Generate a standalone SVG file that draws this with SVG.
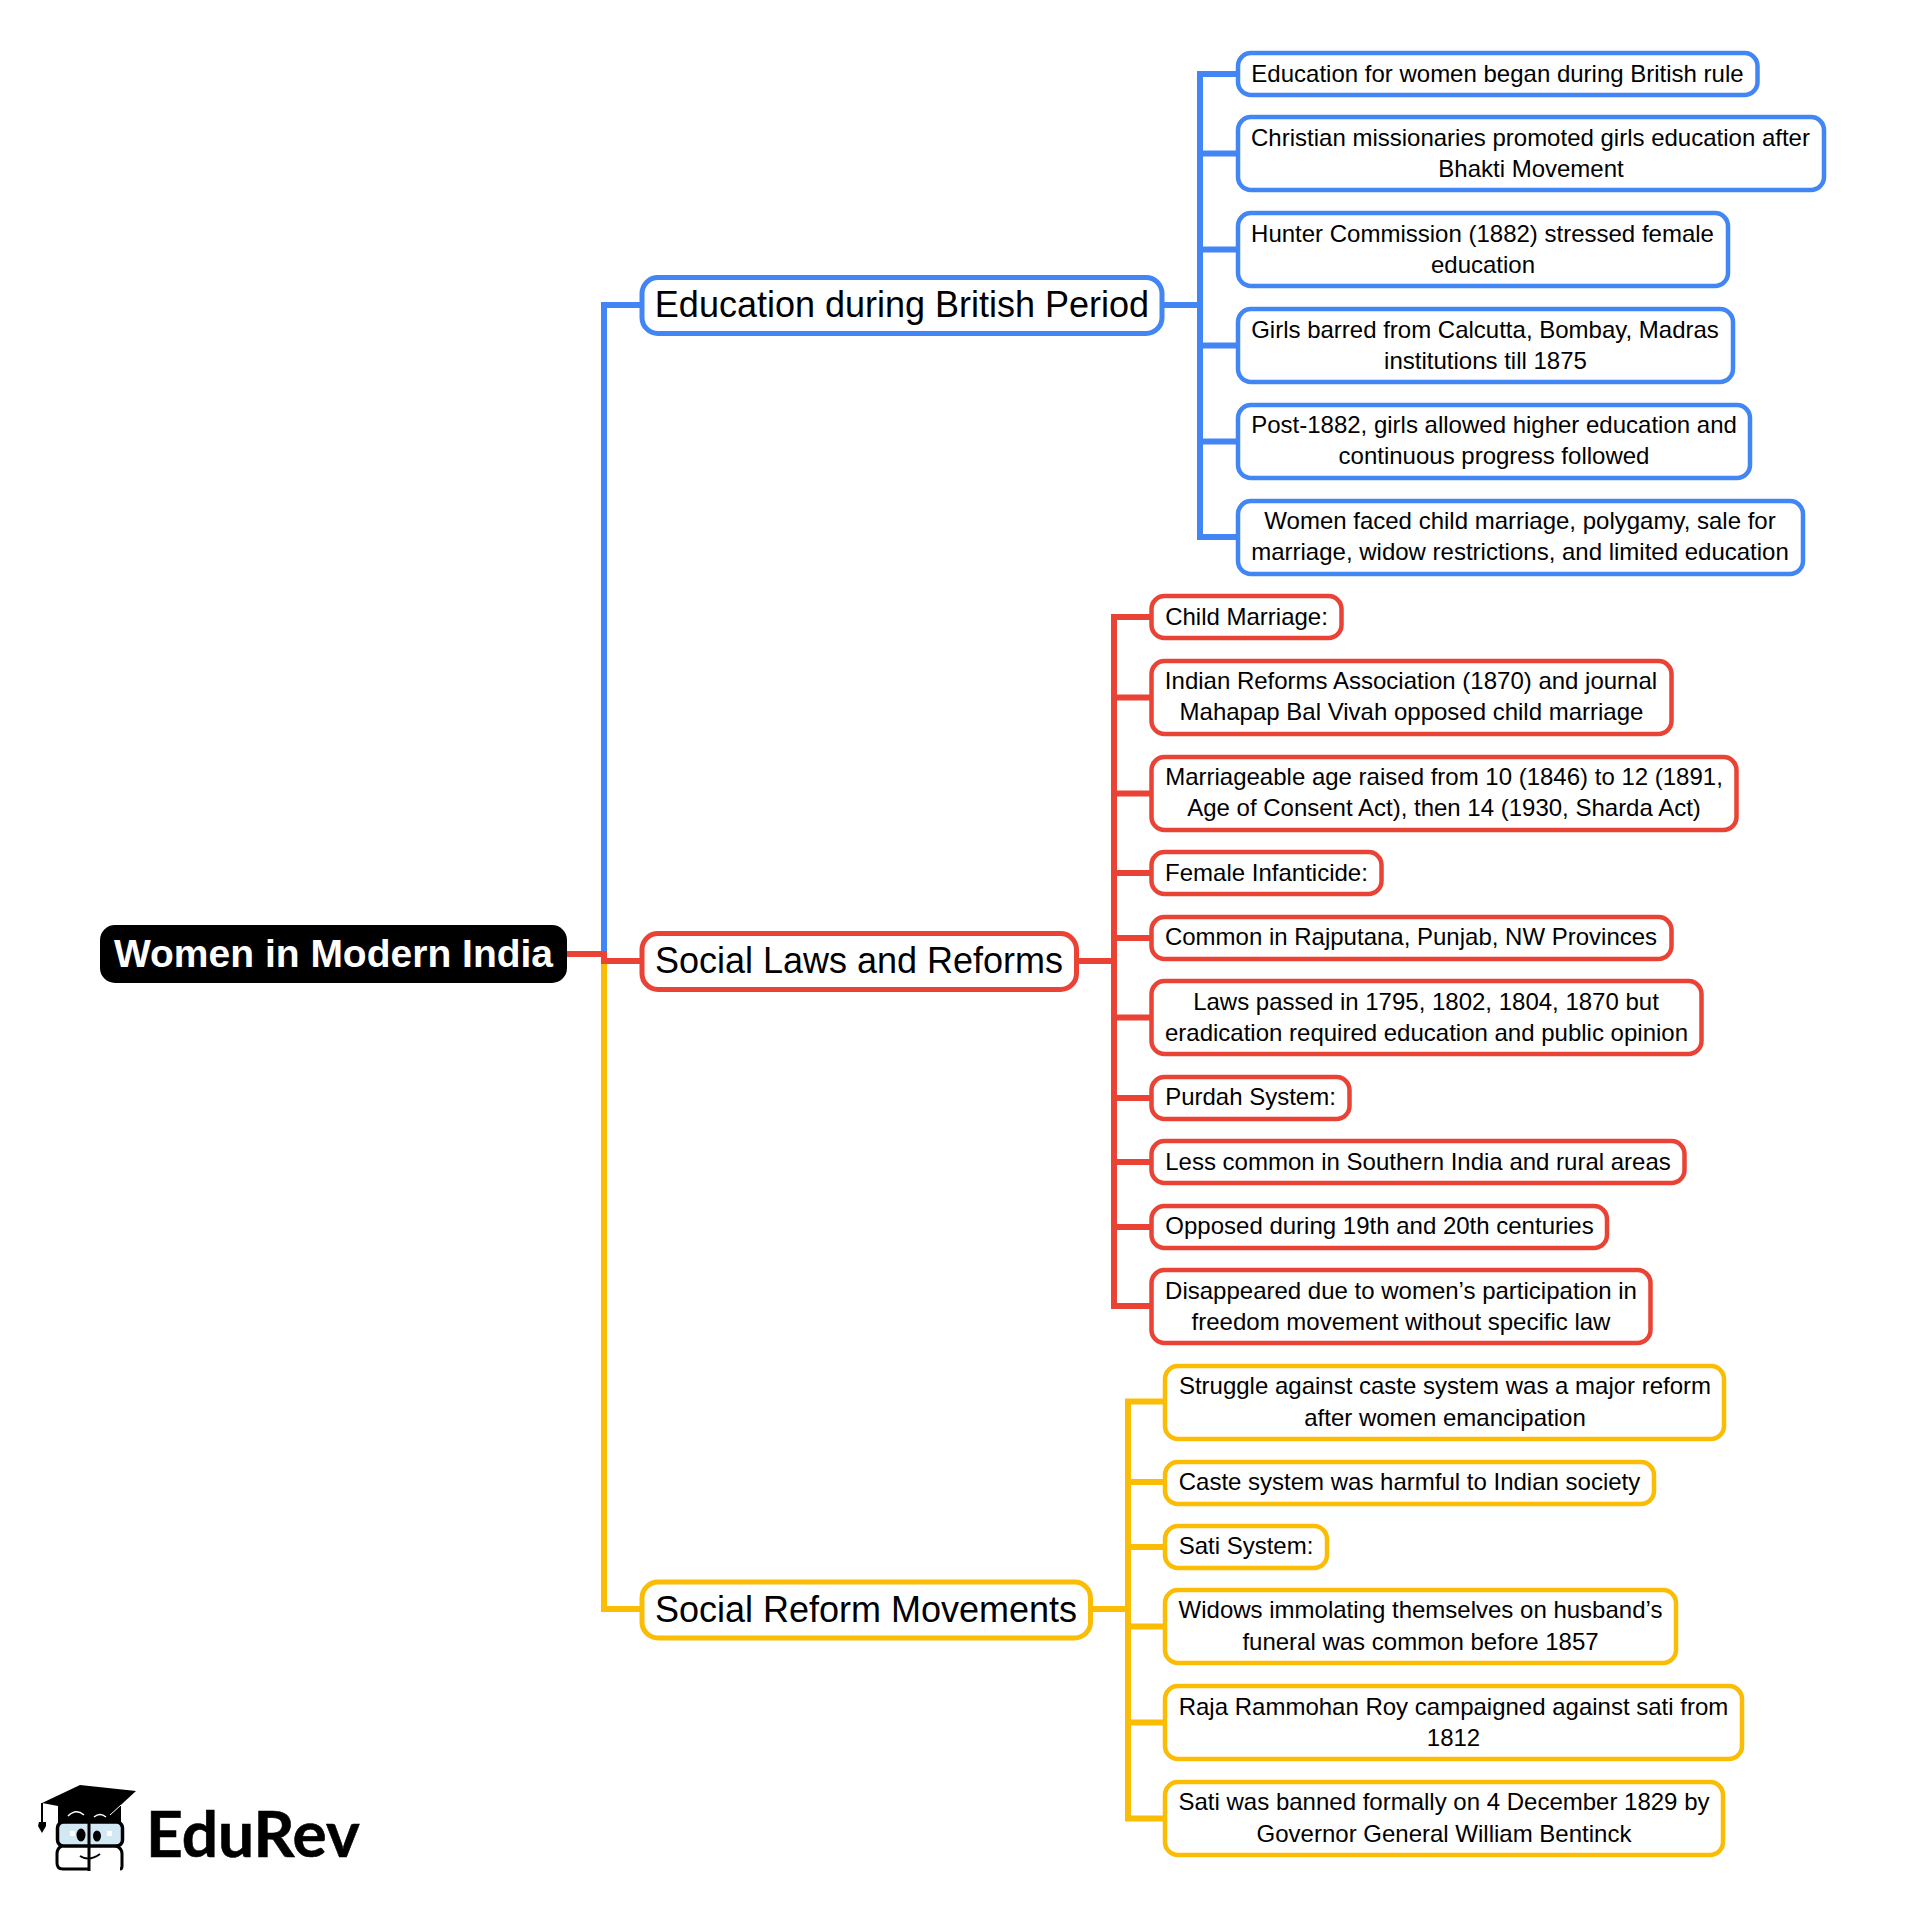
<svg xmlns="http://www.w3.org/2000/svg" width="1926" height="1908" viewBox="0 0 1926 1908">
<style>
text{font-family:"Liberation Sans",Arial,sans-serif;fill:#000;text-anchor:middle}
.l{font-size:24px}
.m{font-size:36px}
.box{fill:#fff;stroke-width:4.500}
.branch{fill:#fff;stroke-width:5}
.b{stroke:#4285f4}.r{stroke:#ea4335}.y{stroke:#fbbc04}
.c{fill:none;stroke-width:6}
.k{fill:none;stroke:#000;stroke-width:3}
</style>
<rect width="1926" height="1908" fill="#fff"/>
<g id="connectors">
<path class="c b" d="M604 953V305H642"/>
<path class="c y" d="M604 961V1609H642"/>
<path class="c r" d="M567 954H604V961H642"/>
<path class="c b" d="M1162 305H1200M1238 74H1200V537H1238M1200 153.500H1238M1200 249.500H1238M1200 345.500H1238M1200 441.500H1238"/>
<path class="c r" d="M1077 961H1114M1151 617H1114V1306H1151M1114 697.500H1151M1114 793.500H1151M1114 873H1151M1114 938H1151M1114 1017.500H1151M1114 1098H1151M1114 1162H1151M1114 1227H1151"/>
<path class="c y" d="M1091 1609H1128M1165 1401.500H1128V1818.500H1165M1128 1482H1165M1128 1547H1165M1128 1626.500H1165M1128 1722.500H1165"/>
</g>
<g id="root"><rect x="100" y="925" width="467" height="58" rx="15" fill="#000"/><text x="333.500" y="967" font-size="39" font-weight="700" style="fill:#fff">Women in Modern India</text></g>
<g id="b1"><rect class="branch b" x="642" y="277.500" width="520" height="56" rx="16"/><text class="m" x="902" y="317">Education during British Period</text></g>
<g id="b2"><rect class="branch r" x="642" y="933.500" width="434.500" height="56" rx="16"/><text class="m" x="859" y="973">Social Laws and Reforms</text></g>
<g id="b3"><rect class="branch y" x="642" y="1582" width="448.500" height="56" rx="16"/><text class="m" x="866" y="1622">Social Reform Movements</text></g>

<g id="e1"><rect class="box b" x="1238" y="53" width="519.500" height="42" rx="13"/><text class="l" x="1497.500" y="82">Education for women began during British rule</text></g>
<g id="e2"><rect class="box b" x="1238" y="117" width="586" height="73" rx="13"/><text class="l" x="1530.500" y="146">Christian missionaries promoted girls education after</text><text class="l" x="1531" y="177">Bhakti Movement</text></g>
<g id="e3"><rect class="box b" x="1238" y="213" width="490" height="73" rx="13"/><text class="l" x="1482.500" y="242">Hunter Commission (1882) stressed female</text><text class="l" x="1483" y="273">education</text></g>
<g id="e4"><rect class="box b" x="1238" y="309" width="495" height="73" rx="13"/><text class="l" x="1485" y="338">Girls barred from Calcutta, Bombay, Madras</text><text class="l" x="1485.500" y="369">institutions till 1875</text></g>
<g id="e5"><rect class="box b" x="1238" y="405" width="512" height="73" rx="13"/><text class="l" x="1494" y="433">Post-1882, girls allowed higher education and</text><text class="l" x="1494" y="464">continuous progress followed</text></g>
<g id="e6"><rect class="box b" x="1238" y="501" width="565" height="73" rx="13"/><text class="l" x="1520" y="529">Women faced child marriage, polygamy, sale for</text><text class="l" x="1520" y="560">marriage, widow restrictions, and limited education</text></g>

<g id="r1"><rect class="box r" x="1151.500" y="596" width="190" height="42" rx="13"/><text class="l" x="1246.500" y="625">Child Marriage:</text></g>
<g id="r2"><rect class="box r" x="1151.500" y="661" width="520" height="73" rx="13"/><text class="l" x="1411" y="689">Indian Reforms Association (1870) and journal</text><text class="l" x="1411.500" y="720">Mahapap Bal Vivah opposed child marriage</text></g>
<g id="r3"><rect class="box r" x="1151.500" y="757" width="585" height="73" rx="13"/><text class="l" x="1444" y="785">Marriageable age raised from 10 (1846) to 12 (1891,</text><text class="l" x="1444" y="816">Age of Consent Act), then 14 (1930, Sharda Act)</text></g>
<g id="r4"><rect class="box r" x="1151.500" y="852" width="230" height="42" rx="13"/><text class="l" x="1266.500" y="881">Female Infanticide:</text></g>
<g id="r5"><rect class="box r" x="1151.500" y="917" width="520" height="42" rx="13"/><text class="l" x="1411" y="945">Common in Rajputana, Punjab, NW Provinces</text></g>
<g id="r6"><rect class="box r" x="1151.500" y="981" width="550" height="73" rx="13"/><text class="l" x="1426" y="1010">Laws passed in 1795, 1802, 1804, 1870 but</text><text class="l" x="1426.500" y="1041">eradication required education and public opinion</text></g>
<g id="r7"><rect class="box r" x="1151.500" y="1077" width="198" height="42" rx="13"/><text class="l" x="1250.500" y="1105">Purdah System:</text></g>
<g id="r8"><rect class="box r" x="1151.500" y="1141" width="533" height="42" rx="13"/><text class="l" x="1418" y="1170">Less common in Southern India and rural areas</text></g>
<g id="r9"><rect class="box r" x="1151.500" y="1206" width="455.500" height="42" rx="13"/><text class="l" x="1379.500" y="1234">Opposed during 19th and 20th centuries</text></g>
<g id="r10"><rect class="box r" x="1151.500" y="1270" width="499" height="73" rx="13"/><text class="l" x="1401" y="1299">Disappeared due to women’s participation in</text><text class="l" x="1401" y="1330">freedom movement without specific law</text></g>

<g id="y1"><rect class="box y" x="1165" y="1366" width="559" height="73" rx="13"/><text class="l" x="1445" y="1394">Struggle against caste system was a major reform</text><text class="l" x="1445" y="1426">after women emancipation</text></g>
<g id="y2"><rect class="box y" x="1165" y="1462" width="489" height="42" rx="13"/><text class="l" x="1409.500" y="1490">Caste system was harmful to Indian society</text></g>
<g id="y3"><rect class="box y" x="1165" y="1526" width="162" height="42" rx="13"/><text class="l" x="1246" y="1554">Sati System:</text></g>
<g id="y4"><rect class="box y" x="1165" y="1590" width="511" height="73" rx="13"/><text class="l" x="1420.500" y="1618">Widows immolating themselves on husband’s</text><text class="l" x="1420.500" y="1650">funeral was common before 1857</text></g>
<g id="y5"><rect class="box y" x="1165" y="1686" width="577" height="73" rx="13"/><text class="l" x="1453.500" y="1715">Raja Rammohan Roy campaigned against sati from</text><text class="l" x="1453.500" y="1746">1812</text></g>
<g id="y6"><rect class="box y" x="1165" y="1782" width="558" height="73" rx="13"/><text class="l" x="1444" y="1810">Sati was banned formally on 4 December 1829 by</text><text class="l" x="1444" y="1842">Governor General William Bentinck</text></g>

<g id="logo">
<path d="M58 1806H121V1824H58Z" fill="#000"/>
<path d="M42 1803L80 1785L136 1791L110 1815L58 1806Z" fill="#000"/>
<path d="M110 1815L121 1805" stroke="#fff" stroke-width="1" fill="none"/>
<path d="M68 1816Q76 1808 84 1815M94 1817Q100 1812 106 1817" stroke="#fff" stroke-width="1.500" fill="none"/>
<path d="M42 1803V1823" stroke="#000" stroke-width="2" fill="none"/>
<path d="M39 1822H46L46 1826L42 1833L38 1826Z" fill="#000"/>
<rect x="57.500" y="1822" width="65" height="24" rx="6" fill="#d3e8f5" stroke="#000" stroke-width="3.500"/>
<path class="k" d="M62 1846Q57 1848 57 1854V1863Q57 1869 63 1869H89M116 1846Q122 1848 122 1854V1866Q122 1869 120 1869"/>
<ellipse cx="81" cy="1835" rx="4.500" ry="6.500" fill="#000"/><ellipse cx="97" cy="1836" rx="4" ry="5.500" fill="#000"/>
<rect x="70" y="1831" width="5" height="5" fill="#fff"/><rect x="107" y="1831" width="5" height="5" fill="#fff"/>
<path d="M89 1818V1871" stroke="#000" stroke-width="3" fill="none"/>
<path d="M80 1856Q89 1862 100 1854" fill="none" stroke="#000" stroke-width="2"/>
<text x="146" y="1857" font-size="64" font-weight="700" stroke="#000" stroke-width="0.600" style="font-family:Lato,sans-serif;text-anchor:start">EduRev</text>
</g>
</svg>
